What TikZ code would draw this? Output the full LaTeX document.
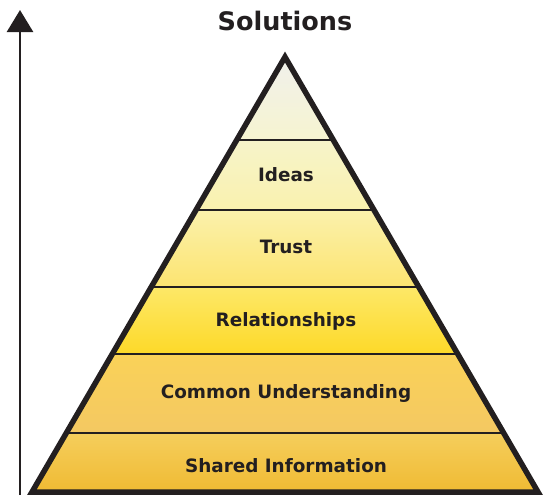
\documentclass[tikz,border=0pt]{standalone}
\usepackage{fontspec}
\setmainfont{DejaVu Sans}
\usetikzlibrary{arrows.meta}
\definecolor{ink}{HTML}{231F20}
\definecolor{aT}{HTML}{F0F0EE}\definecolor{aB}{HTML}{F6F4D0}
\definecolor{bT}{HTML}{F6F3CA}\definecolor{bB}{HTML}{FAF2AE}
\definecolor{cT}{HTML}{FBF1AC}\definecolor{cB}{HTML}{FCE470}
\definecolor{dT}{HTML}{FDE868}\definecolor{dB}{HTML}{FDD928}
\definecolor{eT}{HTML}{FAD258}\definecolor{eB}{HTML}{F4C862}
\definecolor{fT}{HTML}{F5CE5C}\definecolor{fB}{HTML}{EFB82E}
\tikzset{
  lbl/.style={font=\fontsize{18.4}{21}\selectfont\bfseries, text=ink, inner sep=0pt},
  divider/.style={draw=ink, line width=1.6pt},
  outline/.style={draw=ink, line width=5.5pt, line join=miter},
}
\begin{document}
\begin{tikzpicture}[x=1pt,y=-1pt]
\useasboundingbox (0,0) rectangle (543,499);
\coordinate (apex) at (285,57);
\coordinate (bl) at (32,492);
\coordinate (br) at (538,492);
\begin{scope}
\clip (apex) -- (br) -- (bl) -- cycle;
\shade[top color=aT, bottom color=aB] (0,50) rectangle (543,140);
\shade[top color=bT, bottom color=bB] (0,140) rectangle (543,210);
\shade[top color=cT, bottom color=cB] (0,210) rectangle (543,287);
\shade[top color=dT, bottom color=dB] (0,287) rectangle (543,354);
\shade[top color=eT, bottom color=eB] (0,354) rectangle (543,433);
\shade[top color=fT, bottom color=fB] (0,433) rectangle (543,499);
\draw[divider] (0,140) -- (543,140);
\draw[divider] (0,210) -- (543,210);
\draw[divider] (0,287) -- (543,287);
\draw[divider] (0,354) -- (543,354);
\draw[divider] (0,433) -- (543,433);
\end{scope}
\draw[outline] (apex) -- (br) -- (bl) -- cycle;
\coordinate (abot) at (20,495);
\coordinate (atop) at (20,10);
\draw[draw=ink, line width=2.6pt, -{Triangle[width=26pt,length=22pt]}] (abot) -- (atop);
\node[font=\fontsize{25.5}{28}\selectfont\bfseries, text=ink] (sol) at (285,21) {Solutions};
\node[lbl] (ideas) at (286,175) {Ideas};
\node[lbl] (trust) at (286,247) {Trust};
\node[lbl] (rel) at (286,321) {Relationships};
\node[lbl] (com) at (286,393) {Common Understanding};
\node[lbl] (sha) at (286,466) {Shared Information};
\end{tikzpicture}
\end{document}
